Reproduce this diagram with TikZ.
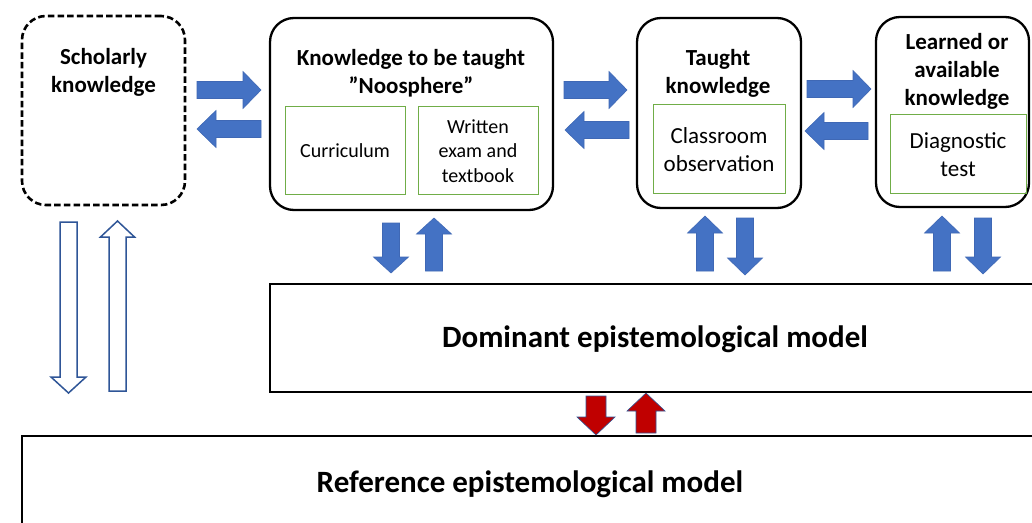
\documentclass[tikz,border=0pt]{standalone}
\usepackage{fontspec}
\setmainfont{Carlito}
\definecolor{ablue}{HTML}{4472C4}
\definecolor{aedge}{HTML}{3F68B5}
\definecolor{hblue}{HTML}{2F5597}
\definecolor{ared}{HTML}{C00000}
\definecolor{gline}{HTML}{70AD47}
\newcommand\ArD[7]{\draw[#1] (#2-#5,#3) -- (#2-#5,#4-#7) -- (#2-#6,#4-#7) -- (#2,#4) -- (#2+#6,#4-#7) -- (#2+#5,#4-#7) -- (#2+#5,#3) -- cycle;}
\newcommand\ArU[7]{\draw[#1] (#2-#5,#3) -- (#2-#5,#4+#7) -- (#2-#6,#4+#7) -- (#2,#4) -- (#2+#6,#4+#7) -- (#2+#5,#4+#7) -- (#2+#5,#3) -- cycle;}
\newcommand\ArR[7]{\draw[#1] (#3,#2-#5) -- (#4-#7,#2-#5) -- (#4-#7,#2-#6) -- (#4,#2) -- (#4-#7,#2+#6) -- (#4-#7,#2+#5) -- (#3,#2+#5) -- cycle;}
\newcommand\ArL[7]{\draw[#1] (#3,#2-#5) -- (#4+#7,#2-#5) -- (#4+#7,#2-#6) -- (#4,#2) -- (#4+#7,#2+#6) -- (#4+#7,#2+#5) -- (#3,#2+#5) -- cycle;}
\begin{document}
\begin{tikzpicture}[x=1pt,y=-1pt,
  every node/.style={outer sep=0pt, inner sep=0pt},
  kbox/.style={draw=black, line width=2.3pt, rounded corners=24pt, anchor=north west},
  dbox/.style={draw=black, line width=2.6pt, dash pattern=on 6.5pt off 3.2pt, rounded corners=24pt, anchor=north west},
  gbox/.style={draw=gline, line width=0.9pt, anchor=north west},
  mbox/.style={draw=black, line width=2pt, anchor=north west},
  ttl/.style={align=center, font=\fontsize{23}{28}\selectfont\bfseries},
  itx/.style={align=center, font=\fontsize{23}{28}\selectfont},
  itxs/.style={align=center, font=\fontsize{20}{24.5}\selectfont},
  big/.style={font=\fontsize{31}{36}\selectfont\bfseries},
  barrow/.style={fill=ablue, draw=aedge, line width=0.6pt},
  rarrow/.style={fill=ared, draw=hblue, line width=0.6pt},
  harrow/.style={fill=white, draw=hblue, line width=1.5pt},
]
\useasboundingbox (0,0) rectangle (1032,522);
\clip (0,0) rectangle (1032,522);
\fill[white] (0,0) rectangle (1032,522);
% main boxes
\node[dbox, minimum width=163pt, minimum height=189pt] (sch) at (22,16) {};
\node[kbox, minimum width=283pt, minimum height=192pt] (noo) at (270,18) {};
\node[kbox, minimum width=164pt, minimum height=190pt] (tau) at (637,18) {};
\node[kbox, minimum width=153pt, minimum height=190pt] (lea) at (876,17) {};
% inner boxes
\node[gbox, minimum width=120pt, minimum height=88pt] (cur) at (285,106) {};
\node[gbox, minimum width=120pt, minimum height=88pt] (wri) at (418,106) {};
\node[gbox, minimum width=132pt, minimum height=89pt] (cla) at (653,104) {};
\node[gbox, minimum width=136pt, minimum height=79pt] (dia) at (890,114) {};
% model boxes
\node[mbox, minimum width=780pt, minimum height=108pt] (dom) at (270,284) {};
\node[mbox, minimum width=1030pt, minimum height=110pt] (ref) at (22,436) {};
% texts
\node[ttl] (schT) at (103.5,72) {Scholarly\\knowledge};
\node[ttl] (nooT) at (411,73) {Knowledge to be taught\\\char"201D Noosphere\char"201D};
\node[ttl] (tauT) at (718,73.5) {Taught\\knowledge};
\node[ttl] (leaT) at (957,71) {Learned or\\available\\knowledge};
\node[itxs] (curT) at (345,151) {Curriculum};
\node[itxs] (wriT) at (478,151) {Written\\exam and\\textbook};
\node[itx] (claT) at (719,149.5) {Classroom\\observation};
\node[itx] (diaT) at (958,154.5) {Diagnostic\\test};
\node[big] (domT) at (655,339) {Dominant epistemological model};
\node[big] (refT) at (530,484) {Reference epistemological model};
% horizontal arrows
\ArR{barrow}{90}{197}{261}{8.5}{18.5}{18}
\ArL{barrow}{129}{261}{197}{8.5}{18.5}{19}
\ArR{barrow}{90}{564}{627}{8.5}{18.5}{18}
\ArL{barrow}{130}{629}{565}{8.5}{18.5}{19}
\ArR{barrow}{89}{807}{871}{8.5}{18.5}{18}
\ArL{barrow}{131}{868}{805}{8.5}{18.5}{19}
% vertical blue arrows
\ArD{barrow}{391}{223}{273}{8.5}{17.5}{16}
\ArU{barrow}{434}{271}{218}{8.5}{17.5}{16}
\ArU{barrow}{705}{271}{216}{8.5}{17.5}{17}
\ArD{barrow}{745}{218}{275}{8.5}{17.5}{17}
\ArU{barrow}{942}{271}{216}{8.5}{17.5}{17}
\ArD{barrow}{983}{218}{274}{8.5}{17.5}{17}
% red arrows
\ArD{rarrow}{596}{396}{435}{10}{19}{18}
\ArU{rarrow}{646}{433}{393}{10}{19}{18}
% hollow arrows
\ArD{harrow}{68.5}{222}{393}{8.5}{17.5}{16}
\ArU{harrow}{117.5}{391}{221}{8.5}{17}{16}
\end{tikzpicture}
\end{document}
